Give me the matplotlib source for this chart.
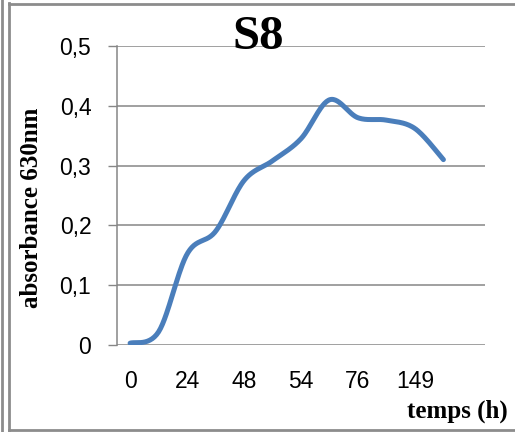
import matplotlib.pyplot as plt
import numpy as np
from matplotlib.lines import Line2D

# absorbance de la souche S8 au cours du temps
hours = ['0', '24', '48', '54', '76', '149']
absorbance = [0.003, 0.022, 0.152, 0.19, 0.275, 0.308, 0.345, 0.41, 0.38, 0.376, 0.362, 0.31]
yticks = [0, 0.1, 0.2, 0.3, 0.4, 0.5]
ylabels = ['0', '0,1', '0,2', '0,3', '0,4', '0,5']

blue = '#4a7ebb'
grey = '#868686'


def smooth(x, y, n=30):
    # courbe lissée façon Excel (Bézier type Catmull-Rom)
    x = np.asarray(x, float)
    y = np.asarray(y, float)
    px = np.concatenate([[x[0]], x, [x[-1]]])
    py = np.concatenate([[y[0]], y, [y[-1]]])
    xs, ys = [], []
    t = np.linspace(0, 1, n)
    for i in range(1, len(px) - 2):
        p0 = np.array([px[i], py[i]])
        p3 = np.array([px[i + 1], py[i + 1]])
        p1 = p0 + (np.array([px[i + 1], py[i + 1]]) - np.array([px[i - 1], py[i - 1]])) / 6
        p2 = p3 - (np.array([px[i + 2], py[i + 2]]) - np.array([px[i], py[i]])) / 6
        b = ((1 - t) ** 3)[:, None] * p0 + (3 * (1 - t) ** 2 * t)[:, None] * p1 \
            + (3 * (1 - t) * t ** 2)[:, None] * p2 + (t ** 3)[:, None] * p3
        xs.append(b[:, 0])
        ys.append(b[:, 1])
    return np.concatenate(xs), np.concatenate(ys)


fig = plt.figure(figsize=(5.15, 4.32), dpi=100)
ax = fig.add_axes([117 / 515, 87 / 432, 368 / 515, 299 / 432])

x = np.arange(len(absorbance))
sx, sy = smooth(x, absorbance)
ax.plot(sx, sy, color=blue, lw=3.6, solid_capstyle='round', zorder=3)

ax.set_xlim(-0.46, 12.46)
ax.set_ylim(0, 0.5)
ax.set_xticks(x[::2])
ax.set_xticklabels(hours, fontsize=16.5, family='Liberation Sans')
ax.tick_params(axis='x', length=0, pad=18)
ax.set_yticks(yticks)
ax.set_yticklabels(ylabels, fontsize=16.5, family='Liberation Sans')
ax.tick_params(axis='y', length=6.5, width=1, color=grey, pad=12)

ax.grid(axis='y', color=grey, lw=1.1)
ax.set_axisbelow(True)
for s in ['top', 'right', 'bottom']:
    ax.spines[s].set_visible(False)
ax.spines['left'].set_color(grey)
ax.spines['left'].set_linewidth(1.1)

fig.text(258 / 515, 1 - 37 / 432, 'S8', ha='center', va='center',
         fontsize=35, fontweight='bold', family='Liberation Serif')
fig.text(32 / 515, 1 - 208 / 432, 'absorbance 630nm', rotation=90, ha='center', va='center',
         fontsize=18, fontweight='bold', family='Liberation Serif')
fig.text(508 / 515, 1 - 411 / 432, 'temps (h)', ha='right', va='center',
         fontsize=18, fontweight='bold', family='Liberation Serif')

# cadre autour du graphique
frame = dict(color='#8c8c8c', lw=2)
fig.add_artist(Line2D([1.5 / 515, 1.5 / 515], [0, 1], **frame))
fig.add_artist(Line2D([9 / 515, 9 / 515], [2 / 432, 1 - 3 / 432], **frame))
fig.add_artist(Line2D([9 / 515, 1], [1 - 3.5 / 432, 1 - 3.5 / 432], **frame))
fig.add_artist(Line2D([9 / 515, 1], [2.5 / 432, 2.5 / 432], **frame))

fig.savefig('out.png', dpi=100)
